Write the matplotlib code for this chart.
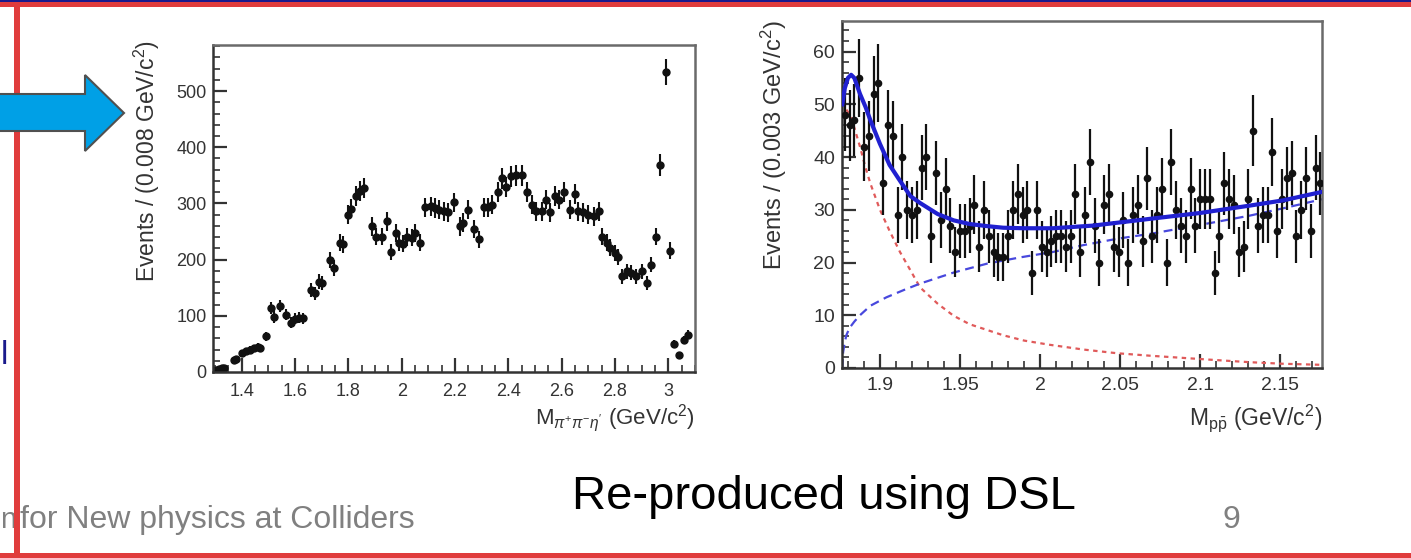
import numpy as np
import matplotlib
matplotlib.use("Agg")
import matplotlib.pyplot as plt
from matplotlib.patches import Rectangle, Polygon
from matplotlib.ticker import MultipleLocator, FormatStrFormatter

plt.rcParams['font.family'] = ['Liberation Sans', 'DejaVu Sans']
plt.rcParams['mathtext.fontset'] = 'custom'
plt.rcParams['mathtext.rm'] = 'Liberation Sans'
plt.rcParams['mathtext.it'] = 'Liberation Sans:italic'

##############################################################################
# left panel: M(pi+ pi- eta') spectrum

mass_3pi = [1.305, 1.315, 1.325, 1.335, 1.37, 1.38, 1.40, 1.415, 1.43, 1.445,
            1.46, 1.47, 1.49, 1.51, 1.52, 1.545, 1.565, 1.585, 1.60, 1.615,
            1.63, 1.66, 1.675, 1.69, 1.70, 1.73, 1.745, 1.77, 1.78, 1.80,
            1.81, 1.83, 1.845, 1.86, 1.89, 1.905, 1.925, 1.944, 1.96, 1.98,
            1.99, 2.005, 2.02, 2.04, 2.05, 2.07, 2.087, 2.11, 2.125, 2.14,
            2.16, 2.175, 2.195, 2.22, 2.23, 2.25, 2.27, 2.29, 2.31, 2.325,
            2.34, 2.36, 2.375, 2.39, 2.41, 2.43, 2.45, 2.47, 2.49, 2.505,
            2.525, 2.54, 2.555, 2.575, 2.59, 2.61, 2.63, 2.65, 2.66, 2.68,
            2.70, 2.72, 2.74, 2.75, 2.77, 2.78, 2.80, 2.81, 2.825, 2.845,
            2.86, 2.88, 2.90, 2.92, 2.935, 2.955, 2.97, 2.99, 3.005, 3.02,
            3.04, 3.06, 3.075]
events_3pi = [4, 6, 7, 8, 22, 23, 33, 37, 40, 42,
              45, 42, 64, 114, 98, 118, 102, 88, 95, 97,
              96, 146, 140, 161, 158, 200, 185, 230, 227, 280,
              291, 314, 322, 327, 259, 241, 241, 268, 214, 248,
              230, 228, 240, 239, 248, 230, 293, 295, 292, 289,
              286, 284, 302, 259, 266, 289, 254, 236, 293, 293,
              298, 321, 345, 329, 348, 350, 350, 320, 298, 286,
              286, 307, 284, 313, 307, 320, 289, 316, 286, 284,
              280, 277, 286, 241, 230, 221, 212, 205, 170, 179,
              177, 170, 179, 159, 191, 241, 368, 534, 216, 50,
              30, 57, 66]

##############################################################################
# right panel: M(p pbar) spectrum and fit

mass_ppbar = [1.878, 1.881, 1.884, 1.887, 1.890, 1.893, 1.896, 1.899, 1.902, 1.905,
              1.908, 1.911, 1.914, 1.917, 1.920, 1.923, 1.926, 1.929, 1.932, 1.935,
              1.938, 1.941, 1.944, 1.947, 1.950, 1.953, 1.956, 1.959, 1.962, 1.965,
              1.968, 1.971, 1.974, 1.977, 1.980, 1.983, 1.986, 1.989, 1.992, 1.995,
              1.998, 2.001, 2.004, 2.007, 2.010, 2.013, 2.016, 2.019, 2.022, 2.025,
              2.028, 2.031, 2.034, 2.037, 2.040, 2.043, 2.046, 2.049, 2.052, 2.055,
              2.058, 2.061, 2.064, 2.067, 2.070, 2.073, 2.076, 2.079, 2.082, 2.085,
              2.088, 2.091, 2.094, 2.097, 2.100, 2.103, 2.106, 2.109, 2.112, 2.115,
              2.118, 2.121, 2.124, 2.127, 2.130, 2.133, 2.136, 2.139, 2.142, 2.145,
              2.148, 2.151, 2.154, 2.157, 2.160, 2.163, 2.166, 2.169, 2.172, 2.175]
events_ppbar = [48, 46, 47, 55, 42, 44, 52, 54, 35, 46,
                44, 29, 40, 30, 29, 30, 38, 40, 25, 37,
                28, 34, 27, 22, 26, 26, 27, 31, 23, 30,
                25, 22, 21, 21, 25, 30, 33, 29, 30, 18,
                30, 23, 22, 24, 25, 25, 23, 25, 33, 22,
                29, 39, 27, 20, 31, 33, 23, 22, 28, 20,
                29, 31, 24, 36, 25, 29, 34, 20, 39, 30,
                27, 25, 34, 27, 32, 32, 32, 18, 25, 35,
                32, 31, 22, 23, 32, 45, 27, 29, 29, 41,
                26, 32, 36, 37, 25, 30, 36, 26, 38, 35]

# fit curves
fit_total_x = [1.8765, 1.878, 1.880, 1.882, 1.884, 1.8875, 1.891, 1.894, 1.900,
               1.906, 1.9125, 1.919, 1.925, 1.936, 1.946, 1.956, 1.967, 1.977,
               1.990, 2.008, 2.033, 2.069, 2.100, 2.131, 2.152, 2.176]
fit_total_y = [50, 53, 55, 55.6, 55, 52, 49.5, 47, 42.5,
               38.5, 35.5, 32.6, 31.3, 29.2, 28, 27.3, 26.9, 26.6,
               26.5, 26.5, 27, 28.3, 29.4, 30.8, 31.8, 33.4]
fit_bkg_x = [1.8765, 1.877, 1.878, 1.879, 1.881, 1.884, 1.8875, 1.894, 1.904,
             1.915, 1.925, 1.946, 1.967, 1.988, 2.008, 2.027, 2.048, 2.070,
             2.090, 2.110, 2.131, 2.152, 2.176]
fit_bkg_y = [0, 3, 4.8, 6.2, 7.6, 8.8, 10, 11.8, 13.4,
             14.8, 16, 18.1, 19.8, 21, 22, 23.3, 24.5, 25.5,
             26.6, 27.7, 28.9, 30.3, 32]
fit_sig_x = [1.8765, 1.878, 1.882, 1.8875, 1.891, 1.894, 1.900, 1.906, 1.9125,
             1.920, 1.925, 1.936, 1.946, 1.956, 1.967, 1.977, 1.990, 2.006,
             2.027, 2.048, 2.070, 2.090, 2.110, 2.131, 2.152, 2.176]
fit_sig_y = [50.5, 49.5, 47.6, 42, 38, 35, 30, 26, 22,
             18, 15.3, 12.2, 9.9, 8.3, 7.2, 6.2, 5.2, 4.4,
             3.5, 2.8, 2.3, 1.9, 1.5, 1.1, 0.8, 0.6]

W, H = 1411, 558
fig = plt.figure(figsize=(W / 100, H / 100), dpi=100)


def fx(px):
    return px / W


def fy(py):
    return 1 - py / H


def root_style(ax, lsize, xpad, ypad):
    for side in ['top', 'right']:
        ax.spines[side].set_color('#6a6a6a')
        ax.spines[side].set_linewidth(1.8)
    for side in ['left', 'bottom']:
        ax.spines[side].set_color('#333333')
        ax.spines[side].set_linewidth(1.8)
    ax.tick_params(which='both', direction='in', top=False, right=False,
                   color='#333333', labelcolor='#333333', labelsize=lsize)
    ax.tick_params(which='major', length=10, width=1.6)
    ax.tick_params(which='minor', length=5, width=1.2)
    ax.tick_params(axis='x', pad=xpad)
    ax.tick_params(axis='y', pad=ypad)
    ax.xaxis.set_major_formatter(FormatStrFormatter('%g'))


# left panel
ax1 = fig.add_axes([fx(213), fy(372), (695 - 213) / W, (372 - 45) / H])
y1 = np.array(events_3pi, dtype=float)
ax1.errorbar(mass_3pi, y1, yerr=np.sqrt(y1), fmt='o', color='#111111',
             ms=5, elinewidth=1.5, capsize=0)
ax1.set_xlim(1.2925, 3.10)
ax1.set_ylim(0, 582)
ax1.xaxis.set_major_locator(MultipleLocator(0.2))
ax1.xaxis.set_minor_locator(MultipleLocator(0.05))
ax1.yaxis.set_major_locator(MultipleLocator(100))
ax1.yaxis.set_minor_locator(MultipleLocator(20))
root_style(ax1, 13, 8, 4.5)
fig.text(fx(695), fy(418), r"M$_{\pi^{+}\pi^{-}\eta^{\prime}}$ (GeV/c$^{2}$)",
         ha='right', va='center', fontsize=16, color='#333333')
fig.text(fx(147), fy(40), "Events / (0.008 GeV/c$^{2}$)", rotation=90,
         ha='center', va='top', fontsize=16.5, color='#333333')

# right panel
ax2 = fig.add_axes([fx(842), fy(368), (1322 - 842) / W, (368 - 21) / H])
y2 = np.array(events_ppbar, dtype=float)
ax2.plot(fit_sig_x, fit_sig_y, color='#e05a5a', lw=1.6, ls=(0, (2, 2)), zorder=2)
ax2.plot(fit_bkg_x, fit_bkg_y, color='#4848dd', lw=1.6, ls=(0, (4, 2.5)), zorder=2)
ax2.errorbar(mass_ppbar, y2, yerr=np.sqrt(y2), fmt='o', color='#111111',
             ms=4.5, elinewidth=1.6, capsize=0, zorder=3)
ax2.plot(fit_total_x, fit_total_y, color='#2020d0', lw=3, zorder=4)
ax2.set_xlim(1.8763, 2.176)
ax2.set_ylim(0, 65.8)
ax2.xaxis.set_major_locator(MultipleLocator(0.05))
ax2.xaxis.set_minor_locator(MultipleLocator(0.01))
ax2.yaxis.set_major_locator(MultipleLocator(10))
ax2.yaxis.set_minor_locator(MultipleLocator(2))
root_style(ax2, 14, 6.5, 5)
fig.text(fx(1322), fy(418), r"M$_{\mathrm{p\bar{p}}}$ (GeV/c$^{2}$)",
         ha='right', va='center', fontsize=16.5, color='#333333')
fig.text(fx(774), fy(20), "Events / (0.003 GeV/c$^{2}$)", rotation=90,
         ha='center', va='top', fontsize=17, color='#333333')

##############################################################################
# slide decorations

fig.add_artist(Rectangle((fx(0), fy(2)), 1, 2 / H, transform=fig.transFigure,
                         color='#1a1a8c', lw=0))
fig.add_artist(Rectangle((fx(0), fy(7)), 1, 5 / H, transform=fig.transFigure,
                         color='#e03c3c', lw=0))
fig.add_artist(Rectangle((fx(0), fy(558)), 1, 5 / H, transform=fig.transFigure,
                         color='#e03c3c', lw=0))
fig.add_artist(Rectangle((fx(14), fy(558)), 6 / W, 556 / H, transform=fig.transFigure,
                         color='#e03c3c', lw=0, zorder=5))

arrow_px = [(-5, 94), (85, 94), (85, 75), (124, 113), (85, 151), (85, 131), (-5, 131)]
fig.add_artist(Polygon([(fx(a), fy(b)) for a, b in arrow_px], closed=True,
                       transform=fig.transFigure, facecolor='#00a0e6',
                       edgecolor='#505050', lw=1.5, zorder=6))

fig.text(fx(1), fy(355), "l", ha='left', va='center', fontsize=24,
         color='#1a1a8c')
fig.text(fx(0.5), fy(520), "n", ha='left', va='center', fontsize=21,
         color='#808080')
fig.text(fx(20), fy(520), "for New physics at Colliders", ha='left',
         va='center', fontsize=23, color='#808080')
fig.text(fx(1231), fy(520), "9", ha='center', va='center', fontsize=23,
         color='#808080')
fig.text(fx(824), fy(497), "Re-produced using DSL", ha='center', va='center',
         fontsize=34, color='black')

fig.savefig("out.png", dpi=100, facecolor='white')
